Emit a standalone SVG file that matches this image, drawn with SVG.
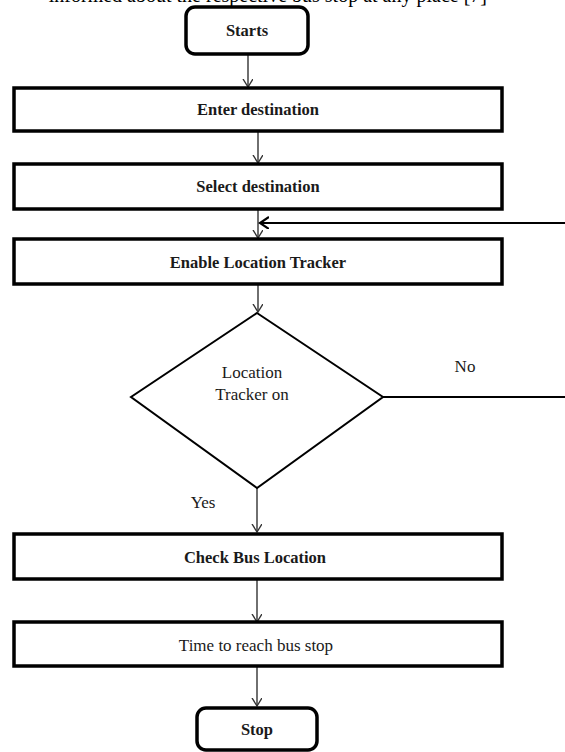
<svg xmlns="http://www.w3.org/2000/svg" width="565" height="752" viewBox="0 0 565 752">
<defs>
<style>
.box{fill:#fff;stroke:#000;stroke-width:3.5}
.term{fill:#fff;stroke:#000;stroke-width:3.5}
.dia{fill:#fff;stroke:#000;stroke-width:2}
.con{fill:none;stroke:#333;stroke-width:1.4}
.thick{fill:none;stroke:#000;stroke-width:2.2}
.t{font-family:"Liberation Serif","Times New Roman",serif;fill:#1a1a1a;text-anchor:middle}
.b{font-weight:bold;font-size:16.5px}
.r{font-size:17px}
</style>
<marker id="ah" markerWidth="12" markerHeight="12" refX="8" refY="5" orient="auto" markerUnits="userSpaceOnUse">
<path d="M0,0 L8,5 L0,10" fill="none" stroke="#333" stroke-width="1.4"/>
</marker>
<marker id="ahk" markerWidth="14" markerHeight="14" refX="9" refY="6" orient="auto" markerUnits="userSpaceOnUse">
<path d="M0,0 L9,6 L0,12" fill="none" stroke="#000" stroke-width="2.2"/>
</marker>
</defs>
<rect width="565" height="752" fill="#fff"/>
<text x="487" y="1.5" font-family="Liberation Serif, serif" font-size="20" text-anchor="end" fill="#000">informed about the respective bus stop at any place [7]</text>
<g id="connectors">
<line class="con" x1="248" y1="54" x2="248" y2="87" marker-end="url(#ah)"/>
<line class="con" x1="258" y1="131" x2="258" y2="163" marker-end="url(#ah)"/>
<line class="con" x1="258" y1="209" x2="258" y2="238" marker-end="url(#ah)"/>
<polyline class="thick" points="565,397 383,397"/>
<line class="thick" x1="565" y1="223" x2="260" y2="223" marker-end="url(#ahk)"/>
<line class="con" x1="258" y1="284" x2="258" y2="312" marker-end="url(#ah)"/>
<line class="con" x1="257" y1="488" x2="257" y2="532" marker-end="url(#ah)"/>
<line class="con" x1="257" y1="579" x2="257" y2="622" marker-end="url(#ah)"/>
<line class="con" x1="257" y1="666" x2="257" y2="706" marker-end="url(#ah)"/>
</g>
<g id="start">
<rect class="term" x="186" y="7" width="122" height="47" rx="9"/>
<text class="t b" x="247" y="36">Starts</text>
</g>
<g id="enter">
<rect class="box" x="14" y="88" width="488" height="43"/>
<text class="t b" x="258" y="115">Enter destination</text>
</g>
<g id="select">
<rect class="box" x="14" y="164" width="488" height="45"/>
<text class="t b" x="258" y="192">Select destination</text>
</g>
<g id="enable">
<rect class="box" x="14" y="239" width="488" height="45"/>
<text class="t b" x="258" y="268">Enable Location Tracker</text>
</g>
<g id="decision">
<polygon class="dia" points="257,313 383,397 257,488 131,397"/>
<text class="t r" x="252" y="378">Location</text>
<text class="t r" x="252" y="400">Tracker on</text>
<text class="t r" x="465" y="372">No</text>
<text class="t r" x="203" y="508">Yes</text>
</g>
<g id="check">
<rect class="box" x="14" y="534" width="488" height="45"/>
<text class="t b" x="255" y="563">Check Bus Location</text>
</g>
<g id="time">
<rect class="box" x="14" y="622" width="488" height="44"/>
<text class="t r" x="256" y="651">Time to reach bus stop</text>
</g>
<g id="stop">
<rect class="term" x="197" y="708" width="120" height="42" rx="9"/>
<text class="t b" x="257" y="735">Stop</text>
</g>
</svg>
